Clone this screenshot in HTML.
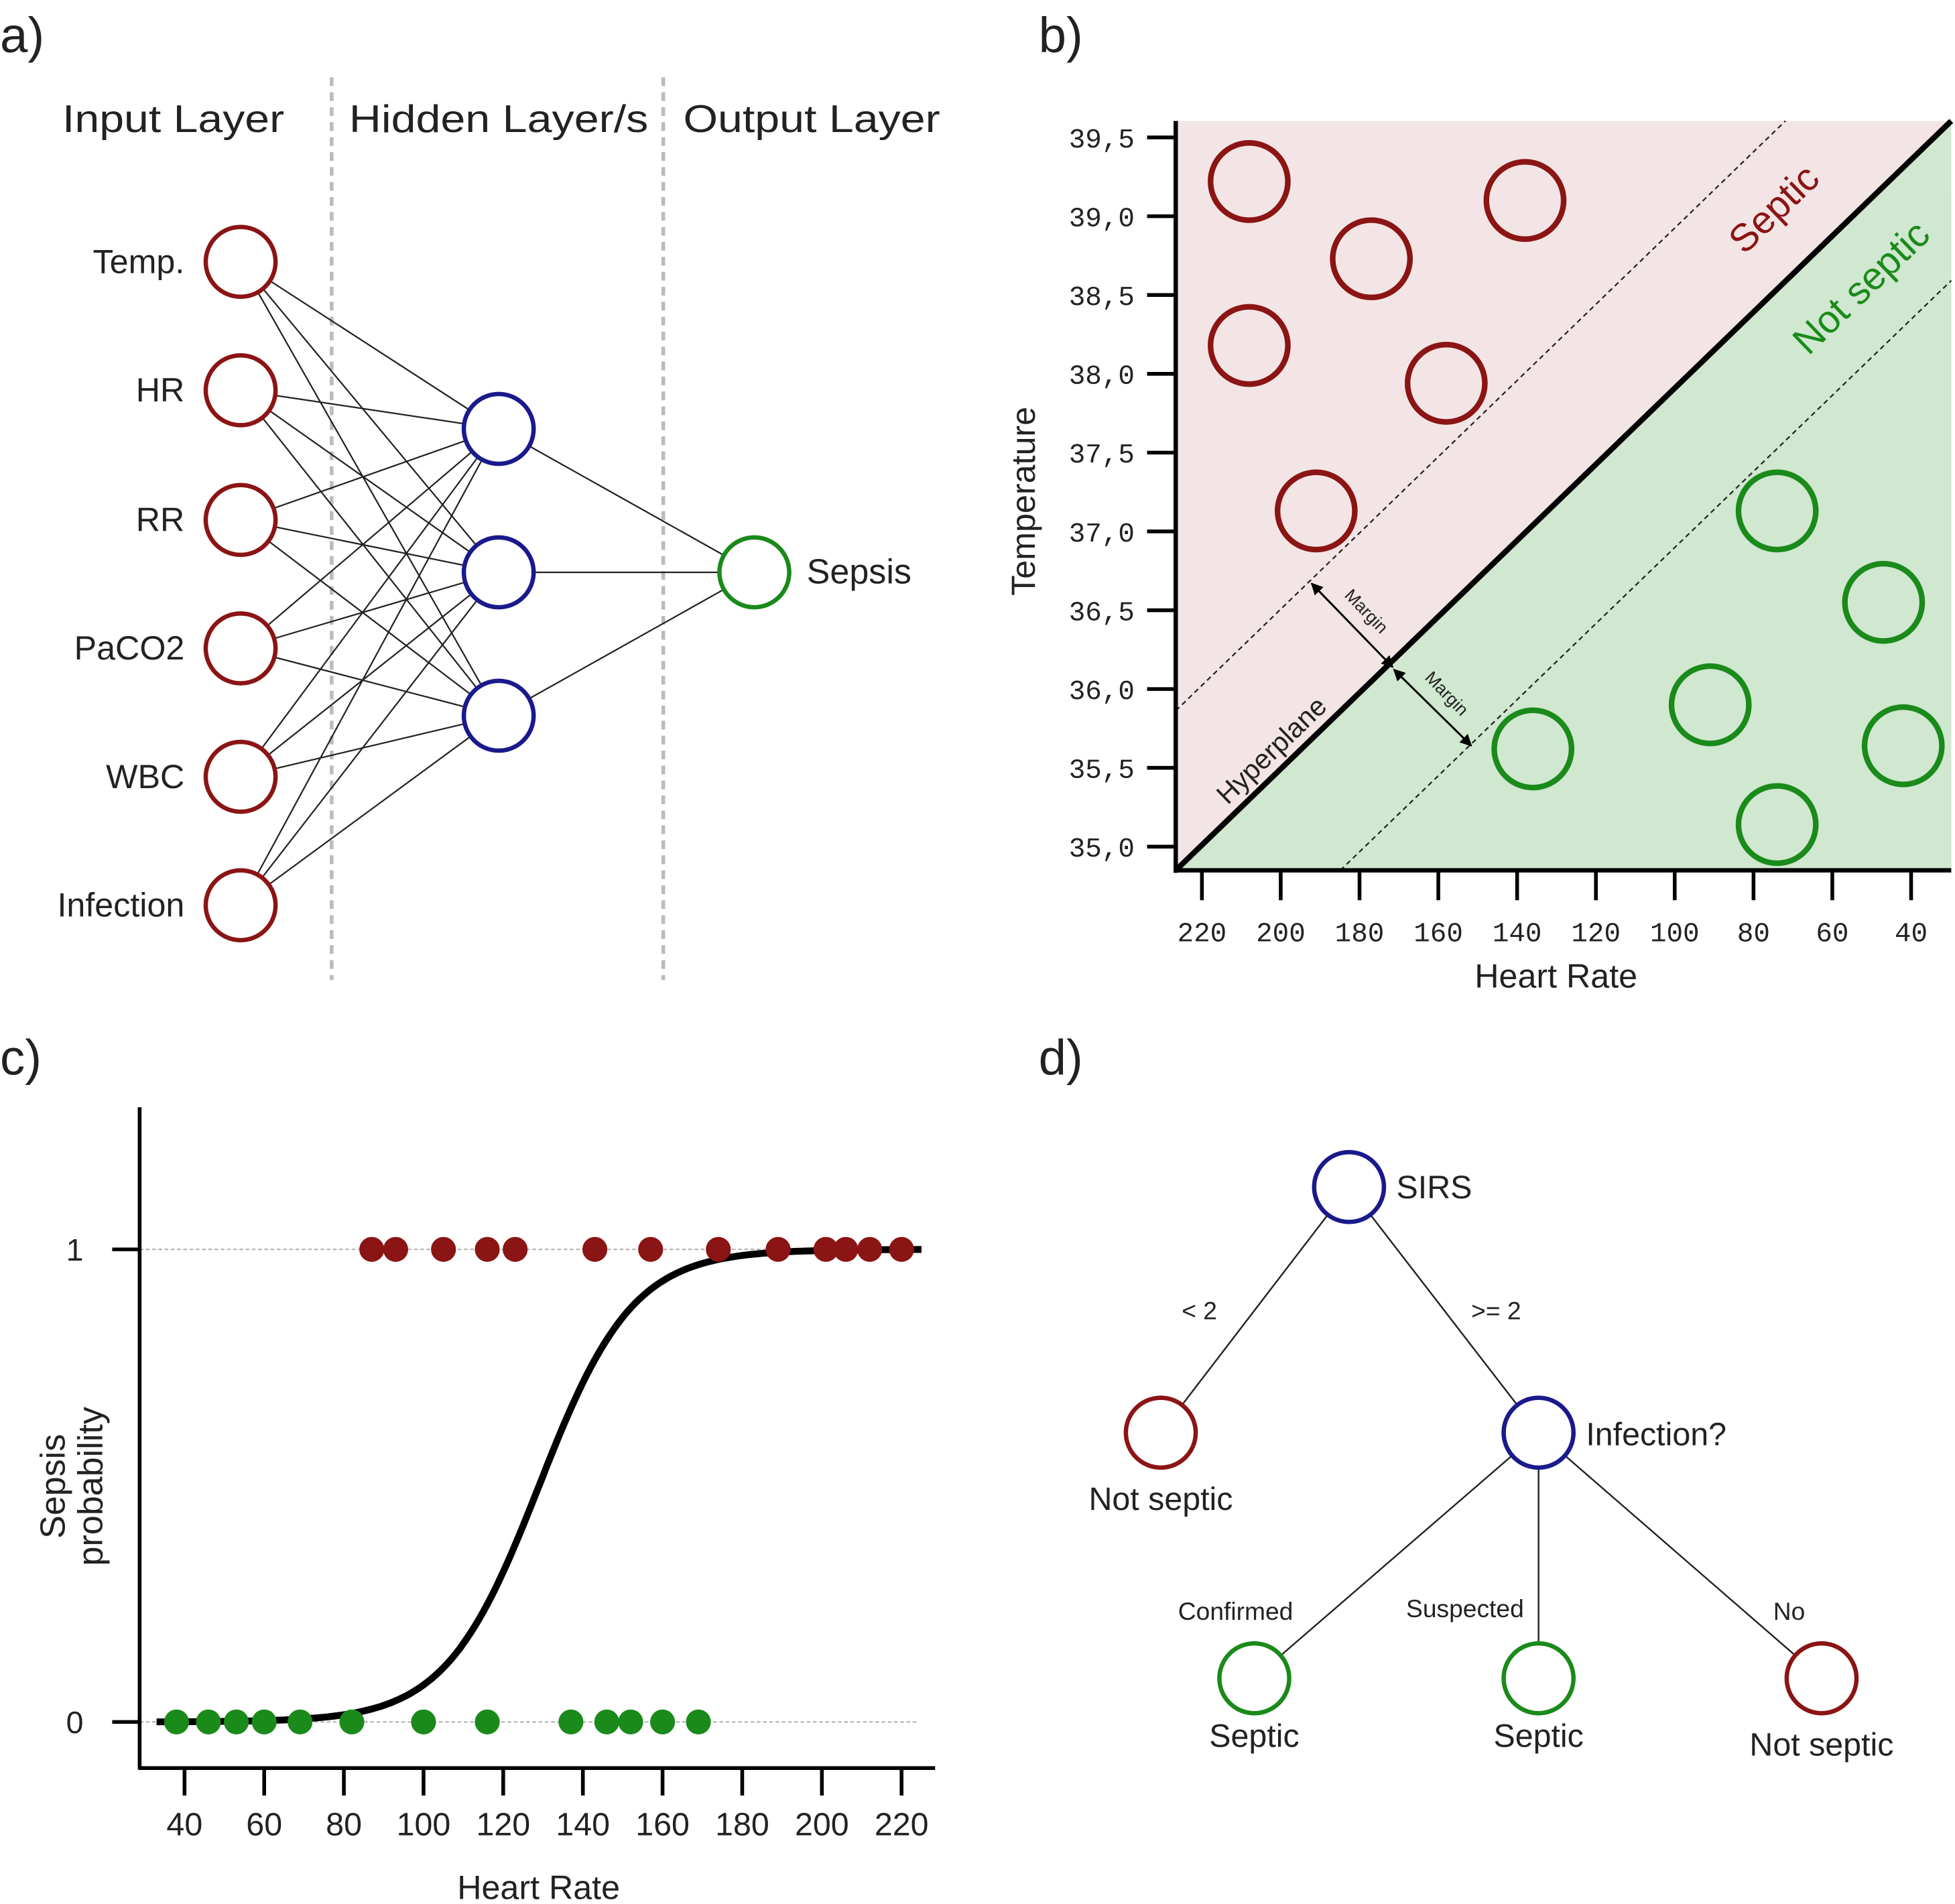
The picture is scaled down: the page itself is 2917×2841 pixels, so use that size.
<!DOCTYPE html>
<html><head><meta charset="utf-8"><style>
html,body{margin:0;padding:0;background:#fff}
svg{display:block}
text{font-family:"Liberation Sans",sans-serif;fill:#222}
.mono{font-family:"Liberation Mono",monospace}
</style></head><body>
<svg id="fig" width="2917" height="2841" viewBox="0 0 1568 1527" preserveAspectRatio="none" xmlns="http://www.w3.org/2000/svg">
<rect width="1568" height="1527" fill="#fff"/>
<g id="pa"></g>
<g id="pb"></g>
<g id="pc"></g>
<g id="pd"></g>
</svg>
<script>
const RED="#8b1414",BLUE="#1a1a8c",GREEN="#1a8a1a";
// Panel b data
const septicHR=[208,138,177,208,158,191];
const septicTemp=[39.22,39.10,38.73,38.18,37.94,37.13];
const notSepticHR=[74,47,91,136,42,74];
const notSepticTemp=[37.13,36.55,35.90,35.62,35.64,35.14];
const tempTicks=["35,0","35,5","36,0","36,5","37,0","37,5","38,0","38,5","39,0","39,5"];
const tempTickVals=[35,35.5,36,36.5,37,37.5,38,38.5,39,39.5];
const hrTicks=[220,200,180,160,140,120,100,80,60,40];
// Panel c data
const sepsisHR=[87,93,105,116,123,143,157,174,189,201,206,212,220];
const noSepsisHR=[38,46,53,60,69,82,100,116,137,146,152,160,169];
const cTicks=[40,60,80,100,120,140,160,180,200,220];
const sigmoidMid=129, sigmoidK=0.085;

const NS="http://www.w3.org/2000/svg";
function mk(parent,tag,attrs,txt){const e=document.createElementNS(NS,tag);for(const k in attrs)e.setAttribute(k,attrs[k]);if(txt!==undefined)e.textContent=txt;parent.appendChild(e);return e;}

// ---------- Panel a ----------
const pa=document.getElementById('pa');
let t=mk(pa,'text',{x:0,y:42,'font-size':40},'a)');


[["Input Layer",50,178],["Hidden Layer/s",280,240],["Output Layer",548,206]].forEach(h=>{
  const e=mk(pa,'text',{x:h[1],y:106,'font-size':31,textLength:h[2],lengthAdjust:'spacingAndGlyphs'},h[0]);
  
  
});
[266,532].forEach(x=>{
  const e=mk(pa,'line',{x1:x,y1:62,x2:x,y2:786,stroke:'#bbb','stroke-width':3,'stroke-dasharray':'7,5'});
  
  
});
const inNames=["Temp.","HR","RR","PaCO2","WBC","Infection"];
const inY=[210,313,417,520,623,726],hidY=[344,459,574];
inY.forEach(y=>hidY.forEach(h=>{const e=mk(pa,'line',{x1:193,y1:y,x2:400,y2:h,stroke:'#222','stroke-width':1.2});}));
hidY.forEach(h=>{const e=mk(pa,'line',{x1:400,y1:h,x2:605,y2:459,stroke:'#222','stroke-width':1.2});});
inY.forEach((y,i)=>{
  const c=mk(pa,'circle',{cx:193,cy:y,r:28,fill:'#fff',stroke:RED,'stroke-width':3.5});
  
  
  const l=mk(pa,'text',{x:148,y:y+9,'font-size':27,'text-anchor':'end'},inNames[i]);
  
  
});
hidY.forEach(y=>{const c=mk(pa,'circle',{cx:400,cy:y,r:28,fill:'#fff',stroke:BLUE,'stroke-width':3.5});});
t=mk(pa,'circle',{cx:605,cy:459,r:28,fill:'#fff',stroke:GREEN,'stroke-width':3.5});


t=mk(pa,'text',{x:647,y:468,'font-size':28},'Sepsis');



// ---------- Panel b ----------
const pb=document.getElementById('pb');
const bx=hr=>964+(220-hr)*3.16, by=T=>679-(T-35)*126.4;
t=mk(pb,'text',{x:833,y:42,'font-size':40},'b)');


const L=943,R=1565,TP=97,BT=698;
t=mk(pb,'polygon',{points:`${L},${TP} ${R},${TP} ${L},${BT}`,fill:'#f3e5e5'});


t=mk(pb,'polygon',{points:`${R},${TP} ${R},${BT} ${L},${BT}`,fill:'#d0e7d0'});


t=mk(pb,'line',{x1:L,y1:570,x2:1432,y2:TP,stroke:'#222','stroke-width':1.2,'stroke-dasharray':'4,3'});


t=mk(pb,'line',{x1:1075,y1:BT,x2:R,y2:225,stroke:'#222','stroke-width':1.2,'stroke-dasharray':'4,3'});


t=mk(pb,'line',{x1:L,y1:BT,x2:R,y2:TP,stroke:'#000','stroke-width':4.5});


const defs=mk(document.getElementById('fig'),'defs',{});
const mkr=mk(defs,'marker',{id:'ah',viewBox:'0 0 10 10',refX:9,refY:5,markerWidth:6,markerHeight:6,orient:'auto-start-reverse'});
mk(mkr,'path',{d:'M0,0 L10,5 L0,10 z',fill:'#000'});
[[1052,468,1117,535],[1118,537,1180,598]].forEach(a=>{
  const e=mk(pb,'line',{x1:a[0],y1:a[1],x2:a[2],y2:a[3],stroke:'#000','stroke-width':1.6,'marker-start':'url(#ah)','marker-end':'url(#ah)'});
  
  
  const mx=(a[0]+a[2])/2+8,my=(a[1]+a[3])/2-8;
  const tx=mk(pb,'text',{x:mx,y:my,'font-size':14,'text-anchor':'middle',transform:`rotate(46 ${mx} ${my})`},'Margin');
  
  
});
t=mk(pb,'text',{x:1025,y:607,'font-size':22,'text-anchor':'middle',transform:'rotate(-44 1025 607)'},'Hyperplane');


t=mk(pb,'text',{x:1430,y:175,'font-size':31,'text-anchor':'middle',transform:'rotate(-44 1430 175)',style:'fill:'+RED},'Septic');


t=mk(pb,'text',{x:1500,y:238,'font-size':31,'text-anchor':'middle',transform:'rotate(-44 1500 238)',style:'fill:'+GREEN},'Not septic');


septicHR.forEach((h,i)=>{const c=mk(pb,'circle',{cx:bx(h),cy:by(septicTemp[i]),r:31,fill:'none',stroke:RED,'stroke-width':4.5});});
notSepticHR.forEach((h,i)=>{const c=mk(pb,'circle',{cx:bx(h),cy:by(notSepticTemp[i]),r:31,fill:'none',stroke:GREEN,'stroke-width':4.5});});
t=mk(pb,'line',{x1:L,y1:TP,x2:L,y2:BT+2,stroke:'#000','stroke-width':3.5});


t=mk(pb,'line',{x1:L,y1:BT,x2:R,y2:BT,stroke:'#000','stroke-width':3.5});


tempTickVals.forEach((v,i)=>{
  const y=by(v);
  const e=mk(pb,'line',{x1:920,y1:y,x2:L,y2:y,stroke:'#000','stroke-width':3});
  
  
  const l=mk(pb,'text',{x:910,y:y+8,'font-size':22,'text-anchor':'end',class:'mono'},tempTicks[i]);
  
  
});
hrTicks.forEach(v=>{
  const x=bx(v);
  const e=mk(pb,'line',{x1:x,y1:BT,x2:x,y2:722,stroke:'#000','stroke-width':3});
  
  
  const l=mk(pb,'text',{x:x,y:755,'font-size':22,'text-anchor':'middle',class:'mono'},v);
  
  
});
t=mk(pb,'text',{x:1248,y:792,'font-size':27,'text-anchor':'middle'},'Heart Rate');


t=mk(pb,'text',{x:830,y:402,'font-size':27,'text-anchor':'middle',transform:'rotate(-90 830 402)'},'Temperature');



// ---------- Panel c ----------
const pc=document.getElementById('pc');
const cx=hr=>148+(hr-40)*3.195, cy=p=>1381-p*379;
t=mk(pc,'text',{x:0,y:862,'font-size':40},'c)');


[0,1].forEach(p=>{
  const e=mk(pc,'line',{x1:112,y1:cy(p),x2:737,y2:cy(p),stroke:'#aaa','stroke-width':1,'stroke-dasharray':'3,2'});
  
  
  const tk=mk(pc,'line',{x1:90,y1:cy(p),x2:112,y2:cy(p),stroke:'#000','stroke-width':3});
  
  
  const l=mk(pc,'text',{x:60,y:cy(p)+9,'font-size':25,'text-anchor':'middle'},String(p));
  
  
});
let d='';
for(let h=33;h<=225;h+=1){const p=1/(1+Math.exp(-sigmoidK*(h-sigmoidMid)));d+=(d?'L':'M')+cx(h).toFixed(1)+','+cy(p).toFixed(1);}
t=mk(pc,'path',{d:d,fill:'none',stroke:'#000','stroke-width':5.5});


sepsisHR.forEach(h=>{const c=mk(pc,'circle',{cx:cx(h),cy:cy(1),r:10,fill:RED});});
noSepsisHR.forEach(h=>{const c=mk(pc,'circle',{cx:cx(h),cy:cy(0),r:10,fill:GREEN});});
t=mk(pc,'line',{x1:112,y1:888,x2:112,y2:1419,stroke:'#000','stroke-width':3});


t=mk(pc,'line',{x1:111,y1:1418,x2:750,y2:1418,stroke:'#000','stroke-width':3});


cTicks.forEach(v=>{
  const x=cx(v);
  const e=mk(pc,'line',{x1:x,y1:1418,x2:x,y2:1440,stroke:'#000','stroke-width':3});
  
  
  const l=mk(pc,'text',{x:x,y:1472,'font-size':26,'text-anchor':'middle'},v);
  
  
});
t=mk(pc,'text',{x:432,y:1523,'font-size':27,'text-anchor':'middle'},'Heart Rate');


t=mk(pc,'text',{x:52,y:1192,'font-size':28,'text-anchor':'middle',transform:'rotate(-90 52 1192)'},'Sepsis');


t=mk(pc,'text',{x:82,y:1192,'font-size':28,'text-anchor':'middle',transform:'rotate(-90 82 1192)'},'probability');



// ---------- Panel d ----------
const pd=document.getElementById('pd');
t=mk(pd,'text',{x:833,y:862,'font-size':40},'d)');


const edges=[[1082,952,931,1149],[1082,952,1234,1149],[1234,1149,1006,1346],[1234,1149,1234,1346],[1234,1149,1461,1346]];
edges.forEach(e=>{const l=mk(pd,'line',{x1:e[0],y1:e[1],x2:e[2],y2:e[3],stroke:'#222','stroke-width':1.3});});
const nodes=[[1082,952,BLUE,'SIRS',1120,961,'start'],[931,1149,RED,'Not septic',931,1211,'middle'],[1234,1149,BLUE,'Infection?',1272,1159,'start'],[1006,1346,GREEN,'Septic',1006,1401,'middle'],[1234,1346,GREEN,'Septic',1234,1401,'middle'],[1461,1346,RED,'Not septic',1461,1408,'middle']];
nodes.forEach(n=>{
  const c=mk(pd,'circle',{cx:n[0],cy:n[1],r:28,fill:'#fff',stroke:n[2],'stroke-width':3.5});
  
  
  const l=mk(pd,'text',{x:n[4],y:n[5],'font-size':26,'text-anchor':n[6]},n[3]);
  
  
});
[["< 2",962,1058],[">= 2",1200,1058],["Confirmed",991,1299],["Suspected",1175,1297],["No",1435,1299]].forEach(a=>{
  const l=mk(pd,'text',{x:a[1],y:a[2],'font-size':20,'text-anchor':'middle'},a[0]);
  
  
});
</script>
</body></html>
